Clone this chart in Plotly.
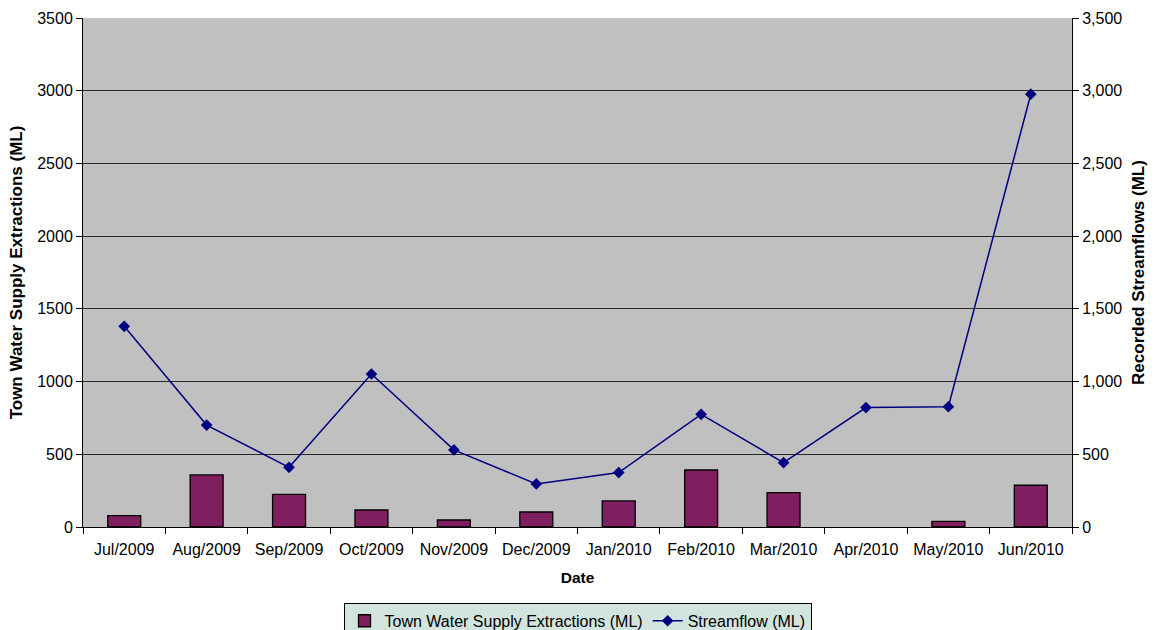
import plotly.graph_objects as go

months = ["Jul/2009", "Aug/2009", "Sep/2009", "Oct/2009", "Nov/2009", "Dec/2009",
          "Jan/2010", "Feb/2010", "Mar/2010", "Apr/2010", "May/2010", "Jun/2010"]
extractions = [78, 358, 225, 117, 48, 103, 179, 392, 236, 0, 39, 287]
streamflow = [1380, 701, 410, 1052, 530, 296, 374, 775, 442, 821, 827, 2976]

font_family = "Liberation Sans, Arial, sans-serif"

# zero-height bars get no outline
bar_edges = [1.3 if v > 0 else 0 for v in extractions]

fig = go.Figure()
fig.add_trace(go.Bar(
    x=months, y=extractions, name="Town Water Supply Extractions (ML)",
    marker=dict(color="#7f1f5f", line=dict(color="#000000", width=bar_edges)),
    width=0.4, yaxis="y",
))
fig.add_trace(go.Scatter(
    x=months, y=streamflow, name="Streamflow (ML)", mode="lines+markers",
    line=dict(color="#000080", width=1.5),
    marker=dict(symbol="diamond", size=9, color="#000080"),
    yaxis="y2",
))

fig.update_layout(
    width=1154, height=630,
    margin=dict(l=83, r=82, t=18, b=103, autoexpand=False),
    paper_bgcolor="white",
    plot_bgcolor="#c0c0c0",
    font=dict(family=font_family, size=16, color="#000000"),
    showlegend=True,
    legend=dict(
        orientation="h", x=0.5, xanchor="center", y=-0.149, yanchor="top",
        bgcolor="#d2e4de", bordercolor="#000000", borderwidth=1,
        font=dict(size=16), traceorder="normal", itemwidth=30,
        tracegroupgap=0,
    ),
    xaxis=dict(
        type="category", showgrid=False, showline=True, linecolor="#000000",
        linewidth=1, ticks="outside", tickson="boundaries", ticklen=6,
        tickcolor="#000000", tickfont=dict(size=16), ticklabelstandoff=8,
        title=dict(text="<b>Date</b>", font=dict(size=15.5), standoff=14),
        range=[-0.5, 11.5],
    ),
    yaxis=dict(
        range=[0, 3500], dtick=500, showgrid=True, gridcolor="#2a2a2a",
        gridwidth=1, showline=True, linecolor="#000000", linewidth=1,
        ticks="outside", ticklen=6, tickcolor="#000000",
        tickfont=dict(size=16), zeroline=False,
        title=dict(text="<b>Town Water Supply Extractions (ML)</b>",
                   font=dict(size=17), standoff=10),
    ),
    yaxis2=dict(
        range=[0, 3500], dtick=500, overlaying="y", side="right",
        showgrid=False, showline=True, linecolor="#000000", linewidth=1,
        ticks="outside", ticklen=6, tickcolor="#000000",
        tickformat=",", tickfont=dict(size=16), zeroline=False,
        title=dict(text="<b>Recorded Streamflows (ML)</b>",
                   font=dict(size=17), standoff=10),
    ),
)

fig.write_html("out.html")
